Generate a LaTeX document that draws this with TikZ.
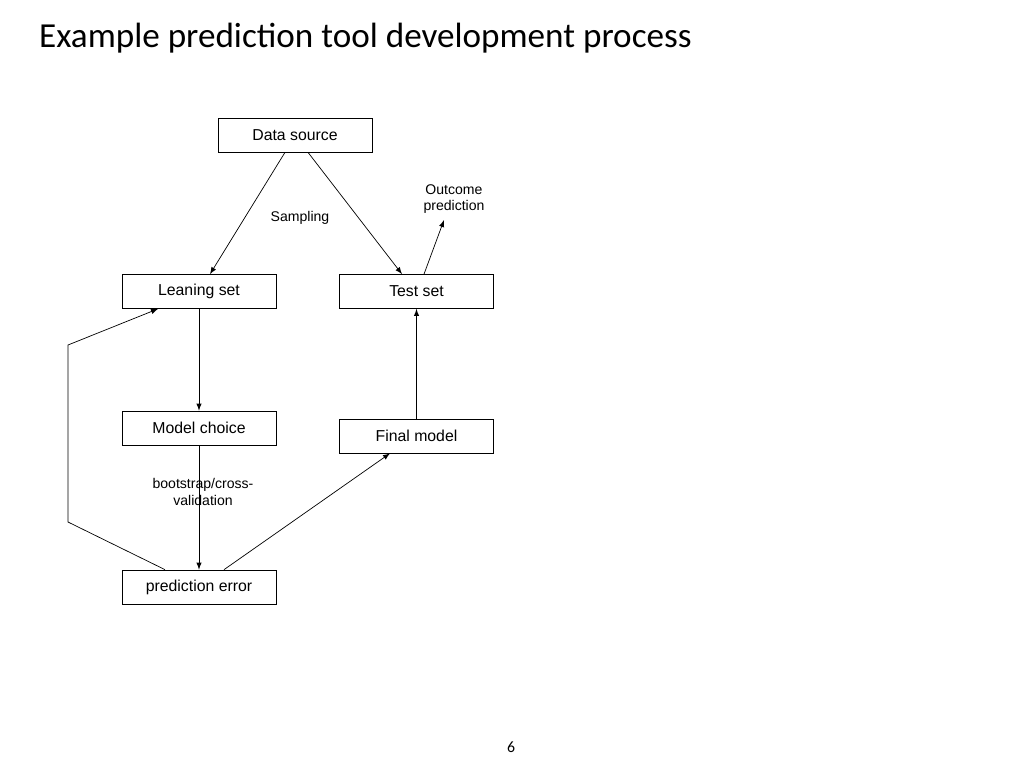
\documentclass[tikz,border=0pt]{standalone}
\usepackage{fontspec}
\setmainfont{Liberation Sans}
\newfontfamily\titlefont{Carlito}
\usetikzlibrary{positioning,calc}

\begin{document}
\begin{tikzpicture}[x=0.02cm,y=-0.02cm,
    box/.style={draw,minimum width=3.08cm,minimum height=0.68cm,inner sep=0pt,font=\fontsize{9}{10}\selectfont},
    lbl/.style={font=\fontsize{8}{9.5}\selectfont,align=center},
    arr/.style={-latex,thin}]
    \useasboundingbox (0,0) rectangle (1024,768);
    \node[anchor=west,font=\titlefont\fontsize{20}{24}\selectfont] (title) at (33,38) {Example prediction tool development process};
    \node[font=\titlefont\fontsize{9}{10}\selectfont] (page) at (511,747) {6};

    \node[box] (src) at (295,135) {Data source};
    \node[box] (learn) at (199,291.5) {Leaning set};
    \node[box] (test) at (416.5,291.5) {Test set};
    \node[box] (choice) at (199,428) {Model choice};
    \node[box] (final) at (416.5,436) {Final model};
    \node[box] (err) at (199,587) {prediction error};

    \node[lbl] (samp) at (300,218) {Sampling};
    \node[lbl] (outc) at (454,199) {Outcome\\prediction};
    \node[lbl] (boot) at (203,492) {bootstrap/cross-\\validation};
    \coordinate (outtip) at (444,220);
    \coordinate (c1) at (68,522);
    \coordinate (c2) at (68,345);

    \draw[arr] ([xshift=-0.2cm]src.south) -- ([xshift=0.22cm]learn.north);
    \draw[arr] ([xshift=0.26cm]src.south) -- ([xshift=-0.29cm]test.north);
    \draw[arr] ([xshift=0.15cm]test.north) -- (outtip);
    \draw[arr] (learn) -- (choice);
    \draw[arr] (choice) -- (err);
    \draw[arr] ([xshift=0.5cm]err.north) -- ([xshift=-0.53cm]final.south);
    \draw[arr] (final) -- (test);
    \draw[arr] ([xshift=-0.68cm]err.north) -- (c1) -- (c2) -- ([xshift=-0.82cm]learn.south);
\end{tikzpicture}
\end{document}
